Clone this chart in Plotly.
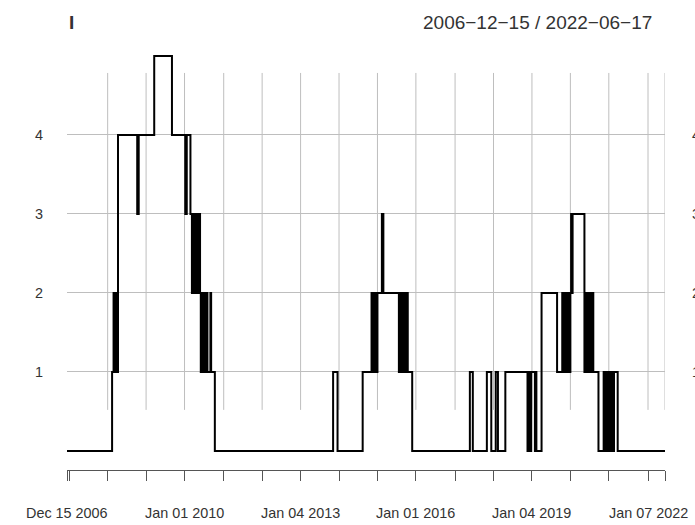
import plotly.graph_objects as go

# ---- data: weekly series "I" as change points (date where value changes, new value)
change_dates = [
    "2006-12-15", "2008-02-15", "2008-02-29", "2008-03-07", "2008-03-14", "2008-03-21",
    "2008-03-28", "2008-04-04", "2008-04-11", "2008-10-10", "2008-10-24", "2009-03-20",
    "2009-09-04", "2010-01-08", "2010-01-22", "2010-02-26", "2010-03-12", "2010-03-19",
    "2010-04-02", "2010-04-09", "2010-04-23", "2010-04-30", "2010-05-14", "2010-05-21",
    "2010-05-28", "2010-06-04", "2010-06-11", "2010-06-25", "2010-07-02", "2010-07-16",
    "2010-07-23", "2010-08-06", "2010-09-03", "2010-09-10", "2010-10-15",
    "2013-11-08", "2013-12-20", "2014-08-15", "2014-11-07", "2014-11-14", "2014-11-28",
    "2014-12-05", "2014-12-19", "2014-12-26", "2015-01-02", "2015-02-13", "2015-02-27",
    "2015-07-24", "2015-07-31", "2015-08-14", "2015-08-21", "2015-09-04", "2015-09-11",
    "2015-09-25", "2015-10-02", "2015-10-16", "2015-11-27",
    "2017-05-26", "2017-06-23", "2017-11-03", "2017-12-15", "2018-01-26", "2018-02-16",
    "2018-04-27", "2018-11-23", "2018-11-30", "2018-12-07", "2018-12-14", "2018-12-21",
    "2018-12-28", "2019-02-01", "2019-02-08", "2019-02-15", "2019-04-05", "2019-08-30",
    "2019-10-18", "2019-10-25", "2019-11-08", "2019-11-15", "2019-11-29", "2019-12-06",
    "2019-12-20", "2019-12-27", "2020-01-03", "2020-01-10", "2020-01-17", "2020-01-24",
    "2020-05-15", "2020-05-29", "2020-06-05", "2020-06-19", "2020-06-26", "2020-07-10",
    "2020-07-17", "2020-07-31", "2020-08-07", "2020-09-25", "2020-11-13", "2020-11-20",
    "2020-12-04", "2020-12-11", "2020-12-25", "2021-01-01", "2021-01-15", "2021-01-22",
    "2021-02-05", "2021-02-12", "2021-02-19", "2021-03-26", "2022-06-17",
]
change_values = [
    0, 1, 2, 1, 2, 1,
    2, 1, 4, 3, 4, 5,
    4, 3, 4, 3, 2, 3,
    2, 3, 2, 3, 2, 3,
    2, 1, 2, 1, 2, 1,
    2, 1, 2, 1, 0,
    1, 0, 1, 2, 1, 2,
    1, 2, 1, 2, 3, 2,
    1, 2, 1, 2, 1, 2,
    1, 2, 1, 0,
    1, 0, 1, 0, 1, 0,
    1, 0, 1, 0, 1, 0,
    1, 0, 1, 0, 2, 1,
    2, 1, 2, 1, 2, 1,
    2, 1, 2, 3, 2, 3,
    1, 2, 1, 2, 1, 2,
    1, 2, 1, 0, 1, 0,
    1, 0, 1, 0, 1, 0,
    1, 0, 1, 0, 0,
]

# x-axis ticks (first weekly observation of each year) and labels
tick_dates = [
    "2006-12-15", "2007-01-05", "2008-01-04", "2009-01-02", "2010-01-01", "2011-01-07",
    "2012-01-06", "2013-01-04", "2014-01-03", "2015-01-02", "2016-01-01", "2017-01-06",
    "2018-01-05", "2019-01-04", "2020-01-03", "2021-01-01", "2022-01-07", "2022-06-17",
]
grid_dates = tick_dates[2:]
label_dates = ["2006-12-15", "2010-01-01", "2013-01-04", "2016-01-01", "2019-01-04", "2022-01-07"]
label_texts = ["Dec 15 2006", "Jan 01 2010", "Jan 04 2013", "Jan 01 2016", "Jan 04 2019", "Jan 07 2022"]
y_ticks = [1, 2, 3, 4]
series_name = "I"
range_text = "2006\u221212\u221215 / 2022\u221206\u221217"

FONT = "Liberation Sans, Arial, Helvetica, sans-serif"
TXT = "#333333"
GRID = "#BEBEBE"
AXIS = "#555555"

fig = go.Figure()
fig.add_trace(go.Scatter(
    x=change_dates, y=change_values, mode="lines",
    line=dict(color="black", width=2, shape="hv"),
    showlegend=False, hoverinfo="skip",
))

shapes = []
for d in grid_dates:
    shapes.append(dict(type="line", xref="x", yref="y", x0=d, x1=d, y0=0.52, y1=4.785,
                       line=dict(color=GRID, width=1), layer="below"))

annotations = []
for d, t in zip(label_dates, label_texts):
    annotations.append(dict(x=d, y=-0.102, xref="x", yref="paper", text=t, showarrow=False,
                            xanchor="center", yanchor="middle",
                            font=dict(family=FONT, size=14.4, color=TXT)))
for v in y_ticks:
    annotations.append(dict(x=-0.037, y=v, xref="paper", yref="y", text=str(v), showarrow=False,
                            xanchor="right", yanchor="middle",
                            font=dict(family=FONT, size=14.4, color=TXT)))
    annotations.append(dict(x=1.0418, y=v, xref="paper", yref="y", text=str(v), showarrow=False,
                            xanchor="left", yanchor="middle",
                            font=dict(family=FONT, size=14.4, color=TXT)))
annotations.append(dict(x=0.0, y=1.0616, xref="paper", yref="paper", text="<b>" + series_name + "</b>",
                        showarrow=False, xanchor="left", yanchor="middle",
                        font=dict(family=FONT, size=19, color=TXT)))
annotations.append(dict(x=0.9816, y=1.0616, xref="paper", yref="paper", text=range_text,
                        showarrow=False, xanchor="right", yanchor="middle",
                        font=dict(family=FONT, size=19, color=TXT)))

fig.update_layout(
    width=695, height=525,
    margin=dict(l=67, r=30, t=48, b=55, pad=0),
    paper_bgcolor="white", plot_bgcolor="white",
    shapes=shapes, annotations=annotations,
    xaxis=dict(type="date", range=["2006-12-15", "2022-06-17"], showgrid=False, zeroline=False,
               showline=True, linecolor=AXIS, linewidth=1, ticks="outside", ticklen=10,
               tickcolor=AXIS, tickwidth=1, tickmode="array", tickvals=tick_dates,
               showticklabels=False, fixedrange=True),
    yaxis=dict(range=[-0.241, 5.101], tickmode="array", tickvals=y_ticks, showgrid=True,
               gridcolor=GRID, gridwidth=1, zeroline=False, showline=False, ticks="",
               showticklabels=False, fixedrange=True),
)

fig.write_html("out.html")
